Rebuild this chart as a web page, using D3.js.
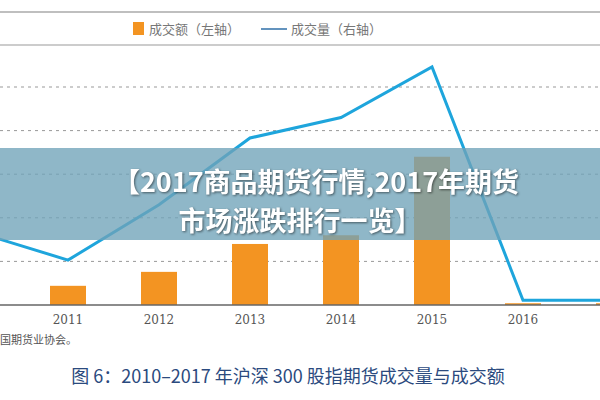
<!DOCTYPE html><html><head><meta charset="utf-8"><script src="https://cdn.jsdelivr.net/npm/d3@7"></script>
<style>body{margin:0;background:#fff}svg{display:block}</style></head><body><svg width="600" height="400"></svg><script>
const years=["2010","2011","2012","2013","2014","2015","2016","2017"];
const amount=[0,0.44,0.76,1.4,1.6,3.4,0.04,0.04];
const volume=[1.67,1.03,2.3,3.83,4.3,5.46,0.11,0.11];
const gridTicks=[1,2,3,4,5];
const legendLabels=["成交额（左轴）","成交量（右轴）"];
const svg=d3.select("svg");
const x=d3.scalePoint().domain(years).range([-23,614]);
const y=d3.scaleLinear().domain([0,5]).range([305,87]);
const serif="'Noto Sans CJK SC','DejaVu Serif',serif";
svg.append("line").attr("x1",0).attr("x2",600).attr("y1",12).attr("y2",12).attr("stroke","#aaa").attr("stroke-width",1.5);
svg.append("line").attr("x1",0).attr("x2",600).attr("y1",45).attr("y2",45).attr("stroke","#999").attr("stroke-width",1);
const lg=svg.append("g");
lg.append("rect").attr("x",133).attr("y",22).attr("width",11).attr("height",13).attr("fill","#f39422");
lg.append("text").attr("x",149).attr("y",34).text(legendLabels[0]).attr("font-size",13).attr("fill","#777").attr("font-family",serif);
lg.append("line").attr("x1",261).attr("x2",287).attr("y1",29).attr("y2",29).attr("stroke","#2f6fa8").attr("stroke-width",1.5);
lg.append("text").attr("x",291).attr("y",34).text(legendLabels[1]).attr("font-size",13).attr("fill","#777").attr("font-family",serif);
svg.append("g").selectAll("line").data(gridTicks).join("line").attr("x1",0).attr("x2",600)
 .attr("y1",d=>y(d)).attr("y2",d=>y(d)).attr("stroke","#999").attr("stroke-dasharray","3,4");
svg.append("g").selectAll("rect").data(years).join("rect").attr("x",d=>x(d)-18).attr("width",36)
 .attr("y",(d,i)=>y(amount[i])).attr("height",(d,i)=>305-y(amount[i])).attr("fill","#f39422");
svg.append("line").attr("x1",0).attr("x2",600).attr("y1",305).attr("y2",305).attr("stroke","#666").attr("stroke-width",1.5);
svg.append("path").datum(years).attr("fill","none").attr("stroke","#1ea5dc").attr("stroke-width",3)
 .attr("d",d3.line().x(d=>x(d)).y((d,i)=>y(volume[i])));
svg.append("g").selectAll("text").data(years.slice(1,7)).join("text").attr("x",d=>x(d)).attr("y",324)
 .attr("text-anchor","middle").attr("font-size",12).attr("fill","#555").attr("font-family","'DejaVu Serif',serif").text(d=>d);
svg.append("text").attr("x",0).attr("y",344).text("国期货业协会。").attr("font-size",11).attr("fill","#555").attr("font-family",serif);
svg.append("text").attr("x",288).attr("y",383).attr("text-anchor","middle").text("图 6：2010–2017 年沪深 300 股指期货成交量与成交额")
 .attr("font-size",18).attr("fill","#2b4a7e").attr("font-family",serif);
svg.append("rect").attr("x",0).attr("y",148).attr("width",600).attr("height",92).attr("fill","#6fa3b8").attr("opacity",0.78);
const t=svg.append("g").attr("font-family","'Noto Sans CJK SC',sans-serif").attr("font-weight","bold").attr("font-size",27)
 .attr("fill","#fff").attr("text-anchor","middle").style("filter","drop-shadow(1px 1px 1px rgba(0,0,0,0.5))");
t.append("text").attr("x",316).attr("y",192).text("【2017商品期货行情,2017年期货");
t.append("text").attr("x",300).attr("y",231).text("市场涨跌排行一览】");
</script></body></html>
